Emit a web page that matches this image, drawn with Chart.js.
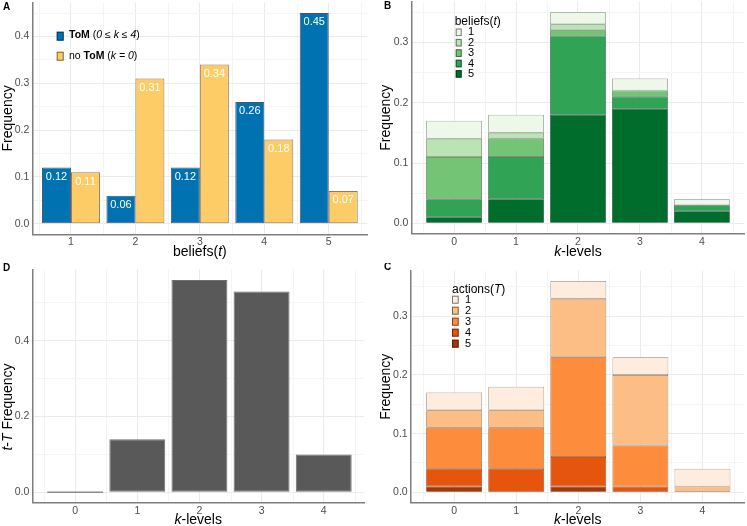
<!DOCTYPE html>
<html>
<head>
<meta charset="utf-8">
<script src="https://cdn.jsdelivr.net/npm/chart.js@4.4.1/dist/chart.umd.min.js"></script>
<style>
  html, body { margin: 0; padding: 0; background: #fff; }
  #fig { position: relative; width: 747px; height: 526px; }
  .panel { position: absolute; }
</style>
</head>
<body>
<div id="fig">
  <div class="panel" style="left:0;top:0;width:373px;height:263px"><canvas id="chartA"></canvas></div>
  <div class="panel" style="left:373px;top:0;width:374px;height:263px"><canvas id="chartB"></canvas></div>
  <div class="panel" style="left:0;top:263px;width:373px;height:263px"><canvas id="chartD"></canvas></div>
  <div class="panel" style="left:373px;top:263px;width:374px;height:263px"><canvas id="chartC"></canvas></div>
</div>
<script>
const FONT = "'Liberation Sans', Arial, Helvetica, sans-serif";

// A: frequency of each belief level
const beliefLevels = [1, 2, 3, 4, 5];
const tomFreq = [0.12, 0.06, 0.12, 0.26, 0.45];
const noTomFreq = [0.11, 0.31, 0.34, 0.18, 0.07];

// B, C, D: by k-level
const kLevels = [0, 1, 2, 3, 4];
const beliefs1 = [0.03, 0.03, 0.02, 0.02, 0.01];
const beliefs2 = [0.03, 0.01, 0.01, 0.00, 0.00];
const beliefs3 = [0.07, 0.03, 0.01, 0.01, 0.00];
const beliefs4 = [0.03, 0.07, 0.13, 0.02, 0.01];
const beliefs5 = [0.01, 0.04, 0.18, 0.19, 0.02];

const actions1 = [0.03, 0.04, 0.03, 0.03, 0.03];
const actions2 = [0.03, 0.03, 0.10, 0.12, 0.01];
const actions3 = [0.07, 0.07, 0.17, 0.07, 0.00];
const actions4 = [0.03, 0.04, 0.05, 0.01, 0.00];
const actions5 = [0.01, 0.00, 0.01, 0.00, 0.00];

const tTFreq = [0, 0.14, 0.56, 0.53, 0.10];

const greens = ['#edf8e9', '#bae4b3', '#74c476', '#31a354', '#006d2c'];
const oranges = ['#feedde', '#fdbe85', '#fd8d3c', '#e6550d', '#a63603'];
const KEY_EDGE = 'rgba(0,0,0,0.5)';

// outline = fill mixed with black, like a half transparent stroke over the fill
function shade(hex, f) {
  const n = parseInt(hex.slice(1), 16);
  const r = Math.round(((n >> 16) & 255) * f);
  const g = Math.round(((n >> 8) & 255) * f);
  const b = Math.round((n & 255) * f);
  return 'rgb(' + r + ',' + g + ',' + b + ')';
}

function isStep(v, step) {
  const r = v / step;
  return Math.abs(r - Math.round(r)) < 1e-6;
}

function fontOf(style, size) {
  return ((style || '') + ' ' + size + 'px ' + FONT).trim();
}

// parts: [[text, style], ...] so one label can mix bold / italic
function drawRich(ctx, parts, x, y, size, align, color) {
  let w = 0;
  parts.forEach(p => { ctx.font = fontOf(p[1], size); w += ctx.measureText(p[0]).width; });
  let cx = align === 'center' ? x - w / 2 : x;
  ctx.fillStyle = color;
  ctx.textAlign = 'left';
  ctx.textBaseline = 'middle';
  parts.forEach(p => {
    ctx.font = fontOf(p[1], size);
    ctx.fillText(p[0], cx, y);
    cx += ctx.measureText(p[0]).width;
  });
}

function key(ctx, x, y, w, h, color) {
  ctx.fillStyle = color;
  ctx.fillRect(x, y, w, h);
  ctx.strokeStyle = KEY_EDGE;
  ctx.lineWidth = 1;
  ctx.strokeRect(x + 0.5, y + 0.5, w - 1, h - 1);
}

// series given from level 1 (top) to level 5 (bottom); first dataset sits at the bottom
function stackedSets(series, colors) {
  return series.map((data, i) => ({
    label: String(i + 1), data, backgroundColor: colors[i],
    borderColor: shade(colors[i], 0.55), borderWidth: 0.75, borderSkipped: false
  })).reverse();
}

function makePanel(id, o) {
  const deco = {
    id: 'deco',
    beforeDraw(chart) {
      // minor vertical grid lines half way between categories
      const c = chart.ctx, xs = chart.scales.x, a = chart.chartArea;
      c.save();
      c.strokeStyle = '#f4f4f4';
      c.lineWidth = 1;
      for (let v = Math.ceil(o.x[0] - 0.5) + 0.5; v < o.x[1]; v += 1) {
        const px = Math.round(xs.getPixelForValue(v)) + 0.5;
        c.beginPath();
        c.moveTo(px, a.top);
        c.lineTo(px, a.bottom);
        c.stroke();
      }
      c.restore();
    },
    afterDraw(chart) {
      const c = chart.ctx, a = chart.chartArea;
      c.save();
      c.font = fontOf('bold', 10);
      c.fillStyle = '#000';
      c.textAlign = 'left';
      c.textBaseline = 'middle';
      c.fillText(o.letter[0], o.letter[1], o.letter[2]);
      drawRich(c, o.xTitle, (a.left + a.right) / 2, o.xTitleY, 14, 'center', '#000');
      c.save();
      c.translate(o.yTitleX, o.yTitleY != null ? o.yTitleY : (a.top + a.bottom) / 2);
      c.rotate(-Math.PI / 2);
      drawRich(c, o.yTitle, 0, 0, 14, 'center', '#000');
      c.restore();
      if (o.extra) o.extra(c, chart);
      c.restore();
    }
  };
  return new Chart(document.getElementById(id), {
    type: 'bar',
    data: { labels: o.labels, datasets: o.datasets },
    options: {
      responsive: true,
      maintainAspectRatio: false,
      animation: false,
      layout: { padding: { top: o.area.top, right: o.area.right, left: 0, bottom: 0 } },
      plugins: { legend: { display: false }, tooltip: { enabled: false } },
      datasets: { bar: { categoryPercentage: 0.9, barPercentage: 1, inflateAmount: 0 } },
      scales: {
        x: {
          type: 'linear', offset: false, stacked: o.stacked, min: o.x[0], max: o.x[1],
          afterFit: s => { s.height = o.area.bottom; s.paddingLeft = 0; s.paddingRight = 0; },
          ticks: { stepSize: 1, includeBounds: false, padding: 2, color: '#4d4d4d', font: { family: FONT, size: 10.5 } },
          grid: { color: '#ebebeb', drawTicks: false, offset: false },
          border: { color: '#7f7f7f', width: 1.5 }
        },
        y: {
          stacked: o.stacked, min: o.y[0], max: o.y[1],
          afterFit: s => { s.width = o.area.left; s.paddingTop = 0; s.paddingBottom = 0; },
          ticks: {
            stepSize: o.yStep, includeBounds: false, autoSkip: false, padding: 3,
            color: '#4d4d4d', font: { family: FONT, size: 10.5 },
            callback: v => isStep(v, o.yMajor) ? v.toFixed(1) : ''
          },
          grid: {
            drawTicks: false,
            color: ctx => isStep(ctx.tick.value, o.yMajor) ? '#ebebeb' : '#f5f5f5'
          },
          border: { color: '#7f7f7f', width: 1.5 }
        }
      }
    },
    plugins: [deco]
  });
}

makePanel('chartA', {
  labels: beliefLevels,
  datasets: [
    { label: 'ToM', data: tomFreq, backgroundColor: '#0072B2', borderColor: '#4a5560', borderWidth: 1, borderSkipped: false },
    { label: 'no ToM', data: noTomFreq, backgroundColor: '#FDCC66', borderColor: '#8a7c60', borderWidth: 1, borderSkipped: false }
  ],
  stacked: false,
  x: [0.4, 5.6], y: [-0.0225, 0.4725], yStep: 0.05, yMajor: 0.1,
  area: { left: 32.3, top: 2.5, right: 5.6, bottom: 28.7 },
  letter: ['A', 3, 7],
  xTitle: [['beliefs('], ['t', 'italic'], [')']], xTitleY: 251.7,
  yTitle: [['Frequency']], yTitleX: 8.3,
  extra(c, chart) {
    chart.data.datasets.forEach((ds, d) => {
      chart.getDatasetMeta(d).data.forEach((bar, i) => {
        c.font = fontOf('', 11);
        c.fillStyle = '#fff';
        c.textAlign = 'center';
        c.textBaseline = 'middle';
        c.fillText(ds.data[i].toFixed(2), bar.x, bar.y + 9.4);
      });
    });
    key(c, 56.7, 31.7, 7, 9, '#0072B2');
    drawRich(c, [['ToM', 'bold'], [' ('], ['0 \u2264 k \u2264 4', 'italic'], [')']], 69, 35.5, 10.5, 'left', '#000');
    key(c, 56.7, 51.7, 7, 9, '#FDCC66');
    drawRich(c, [['no '], ['ToM', 'bold'], [' ('], ['k = 0', 'italic'], [')']], 69, 56.5, 10.5, 'left', '#000');
  }
});

makePanel('chartB', {
  labels: kLevels,
  datasets: stackedSets([beliefs1, beliefs2, beliefs3, beliefs4, beliefs5], greens),
  stacked: true,
  x: [-0.69, 4.69], y: [-0.0175, 0.3675], yStep: 0.05, yMajor: 0.1,
  area: { left: 38.3, top: 1.6, right: 2.3, bottom: 29.1 },
  letter: ['B', 11, 6.5],
  xTitle: [['k', 'italic'], ['-levels']], xTitleY: 251.7,
  yTitle: [['Frequency']], yTitleX: 13.2,
  extra(c) {
    drawRich(c, [['beliefs('], ['t', 'italic'], [')']], 81.7, 21.7, 12, 'left', '#000');
    greens.forEach((col, i) => {
      const cy = 32.3 + 10.4 * i;
      key(c, 82.7, cy - 3.8, 6, 7.6, col);
      drawRich(c, [[String(i + 1)]], 95, cy, 11, 'left', '#000');
    });
  }
});

makePanel('chartD', {
  labels: kLevels,
  datasets: [{
    label: 't-T', data: tTFreq, minBarLength: 1.5,
    backgroundColor: ctx => ctx.raw === 0 ? '#8c8c8c' : '#595959',
    borderColor: '#6e6e6e', borderWidth: ctx => ctx.raw === 0 ? 0 : 1, borderSkipped: false
  }],
  stacked: false,
  x: [-0.69, 4.65], y: [-0.028, 0.588], yStep: 0.1, yMajor: 0.2,
  area: { left: 32.3, top: 6.4, right: 8.9, bottom: 23.1 },
  letter: ['D', 3, 5.5],
  xTitle: [['k', 'italic'], ['-levels']], xTitleY: 257.3,
  yTitle: [['t', 'italic'], ['-'], ['T', 'italic'], [' Frequency']], yTitleX: 8.3, yTitleY: 144
});

makePanel('chartC', {
  labels: kLevels,
  datasets: stackedSets([actions1, actions2, actions3, actions4, actions5], oranges),
  stacked: true,
  x: [-0.70, 4.68], y: [-0.018, 0.378], yStep: 0.05, yMajor: 0.1,
  area: { left: 37.7, top: 7.5, right: 2.3, bottom: 23.1 },
  letter: ['C', 11, 4.5],
  xTitle: [['k', 'italic'], ['-levels']], xTitleY: 257.3,
  yTitle: [['Frequency']], yTitleX: 13.3,
  extra(c) {
    drawRich(c, [['actions('], ['T', 'italic'], [')']], 79, 26.7, 12, 'left', '#000');
    oranges.forEach((col, i) => {
      const cy = 36.7 + 11 * i;
      key(c, 79, cy - 4, 6.7, 8, col);
      drawRich(c, [[String(i + 1)]], 92, cy, 11, 'left', '#000');
    });
  }
});
</script>
</body>
</html>
